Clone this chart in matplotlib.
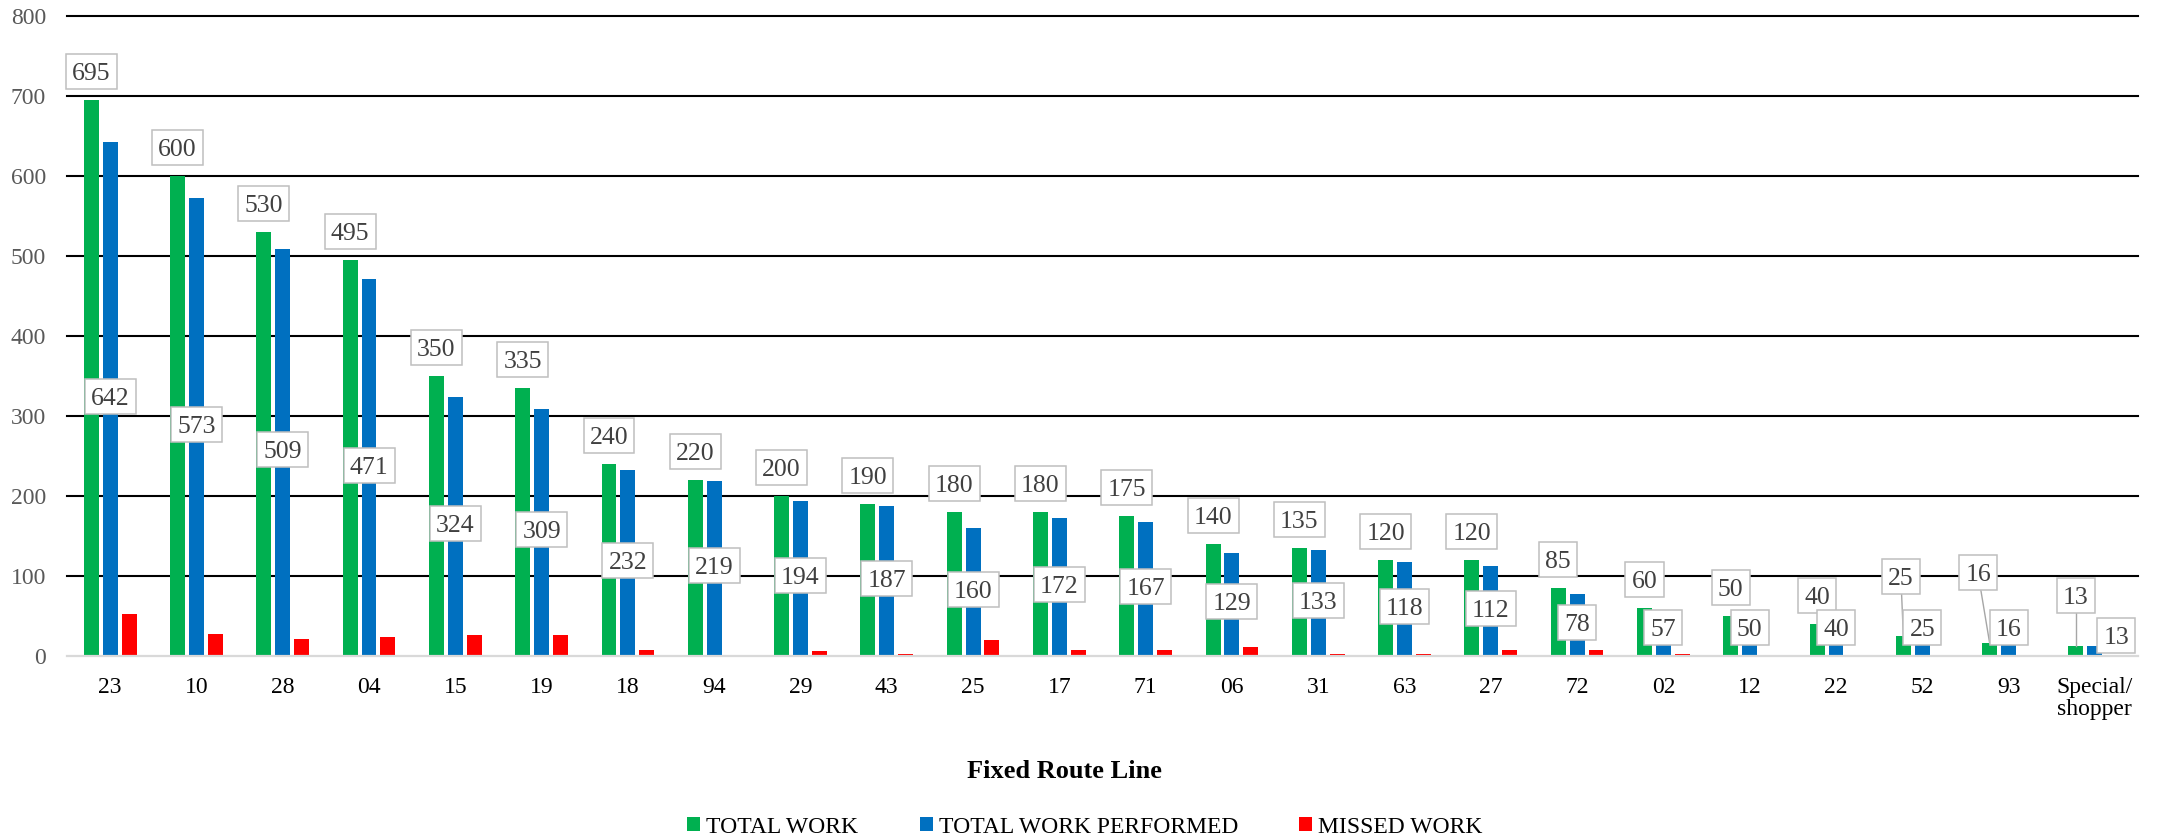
import matplotlib
matplotlib.use("Agg")
import matplotlib.pyplot as plt
from matplotlib.patches import Patch
from matplotlib.path import Path
import numpy as np

# Work counts per fixed route line
routes = ["23", "10", "28", "04", "15", "19", "18", "94", "29", "43", "25", "17",
          "71", "06", "31", "63", "27", "72", "02", "12", "22", "52", "93",
          "Special/\nshopper"]
total_work = [695, 600, 530, 495, 350, 335, 240, 220, 200, 190, 180, 180,
              175, 140, 135, 120, 120, 85, 60, 50, 40, 25, 16, 13]
work_performed = [642, 573, 509, 471, 324, 309, 232, 219, 194, 187, 160, 172,
                  167, 129, 133, 118, 112, 78, 57, 50, 40, 25, 16, 13]
missed_work = [53, 27, 21, 24, 26, 26, 8, 1, 6, 3, 20, 8,
               8, 11, 2, 2, 8, 7, 3, 0, 0, 0, 0, 0]

series_names = ["TOTAL WORK", "TOTAL WORK PERFORMED", "MISSED WORK"]
colors = ["#00B050", "#0070C0", "#FF0000"]

plt.rcParams["font.family"] = ["Liberation Serif", "DejaVu Serif"]

W, H = 2159, 838
fig = plt.figure(figsize=(W / 100, H / 100), dpi=100)
ax = fig.add_axes([67 / W, 1 - 656 / H, (2138 - 67) / W, (656 - 16) / H])

x = np.arange(len(routes))
step = 0.219
width = 0.173
ax.bar(x - step, total_work, width, color=colors[0], zorder=2)
ax.bar(x, work_performed, width, color=colors[1], zorder=2)
ax.bar(x + step, missed_work, width, color=colors[2], zorder=2)

ax.set_xlim(-0.5, len(routes) - 0.5)
ax.set_ylim(0, 800)

# horizontal gridlines and light baseline
for yv in range(100, 801, 100):
    ax.axhline(yv, color="black", lw=1.5, zorder=1, clip_on=False)
ax.axhline(0, color="#D9D9D9", lw=1.6, zorder=3, clip_on=False)

for s in ax.spines.values():
    s.set_visible(False)

ax.set_yticks(range(0, 801, 100))
ax.set_yticklabels([str(v) for v in range(0, 801, 100)], color="#595959", fontsize=17)
ax.set_xticks(x)
ax.set_xticklabels(routes, fontsize=17, color="black", linespacing=1.05)
ax.tick_params(axis="y", length=0, pad=15)
ax.tick_params(axis="x", length=0, pad=15)


def label_box(x0, y0, w, h, mutation_size):
    """Rectangular callout frame with a fixed height around the digits."""
    padx = 0.24 * mutation_size
    bh = 1.36 * mutation_size
    cy = y0 + h / 2 + 0.1 * mutation_size
    left, right = x0 - padx, x0 + w + padx
    bottom, top = cy - bh / 2, cy + bh / 2
    return Path([(left, bottom), (right, bottom), (right, top), (left, top), (left, bottom)],
                closed=True)


label_style = dict(ha="center", va="center", fontsize=18.5, color="#404040", zorder=6,
                   bbox=dict(boxstyle=label_box, fc="white", ec="#BFBFBF", lw=1.1))
leader_style = dict(color="#A6A6A6", lw=1.0, zorder=5)

# label placements that were moved off their default spot (x offset, y value)
green_moved = {21: (-0.247, 96), 22: (-0.35, 101), 23: (-0.219, 72)}
blue_moved = {23: (0.25, 22)}

for i in range(len(routes)):
    gv = total_work[i]
    bv = work_performed[i]
    gx = x[i] - step
    if i in green_moved:
        dx, ly = green_moved[i]
        lx = x[i] + dx
        ax.plot([lx, gx], [ly, gv], **leader_style)
    else:
        lx, ly = gx, gv + 32
    ax.text(lx, ly, str(gv), **label_style)

    if i in blue_moved:
        dx, by = blue_moved[i]
        bx = x[i] + dx
    else:
        bx, by = x[i], max(bv / 2, 32)
    ax.text(bx, by, str(bv), **label_style)

fig.text(1064 / W, 1 - 778 / H, "Fixed Route Line", ha="center", va="baseline",
         fontsize=19, fontweight="bold")

handles = [Patch(facecolor=c, edgecolor="none") for c in colors]
fig.legend(handles, series_names, loc="center", bbox_to_anchor=(1085 / W, 1 - 827 / H),
           ncol=3, frameon=False, fontsize=17, handlelength=0.55, handleheight=0.55,
           handletextpad=0.25, columnspacing=2.6, borderaxespad=0, borderpad=0)

fig.savefig("out.png", dpi=100)
